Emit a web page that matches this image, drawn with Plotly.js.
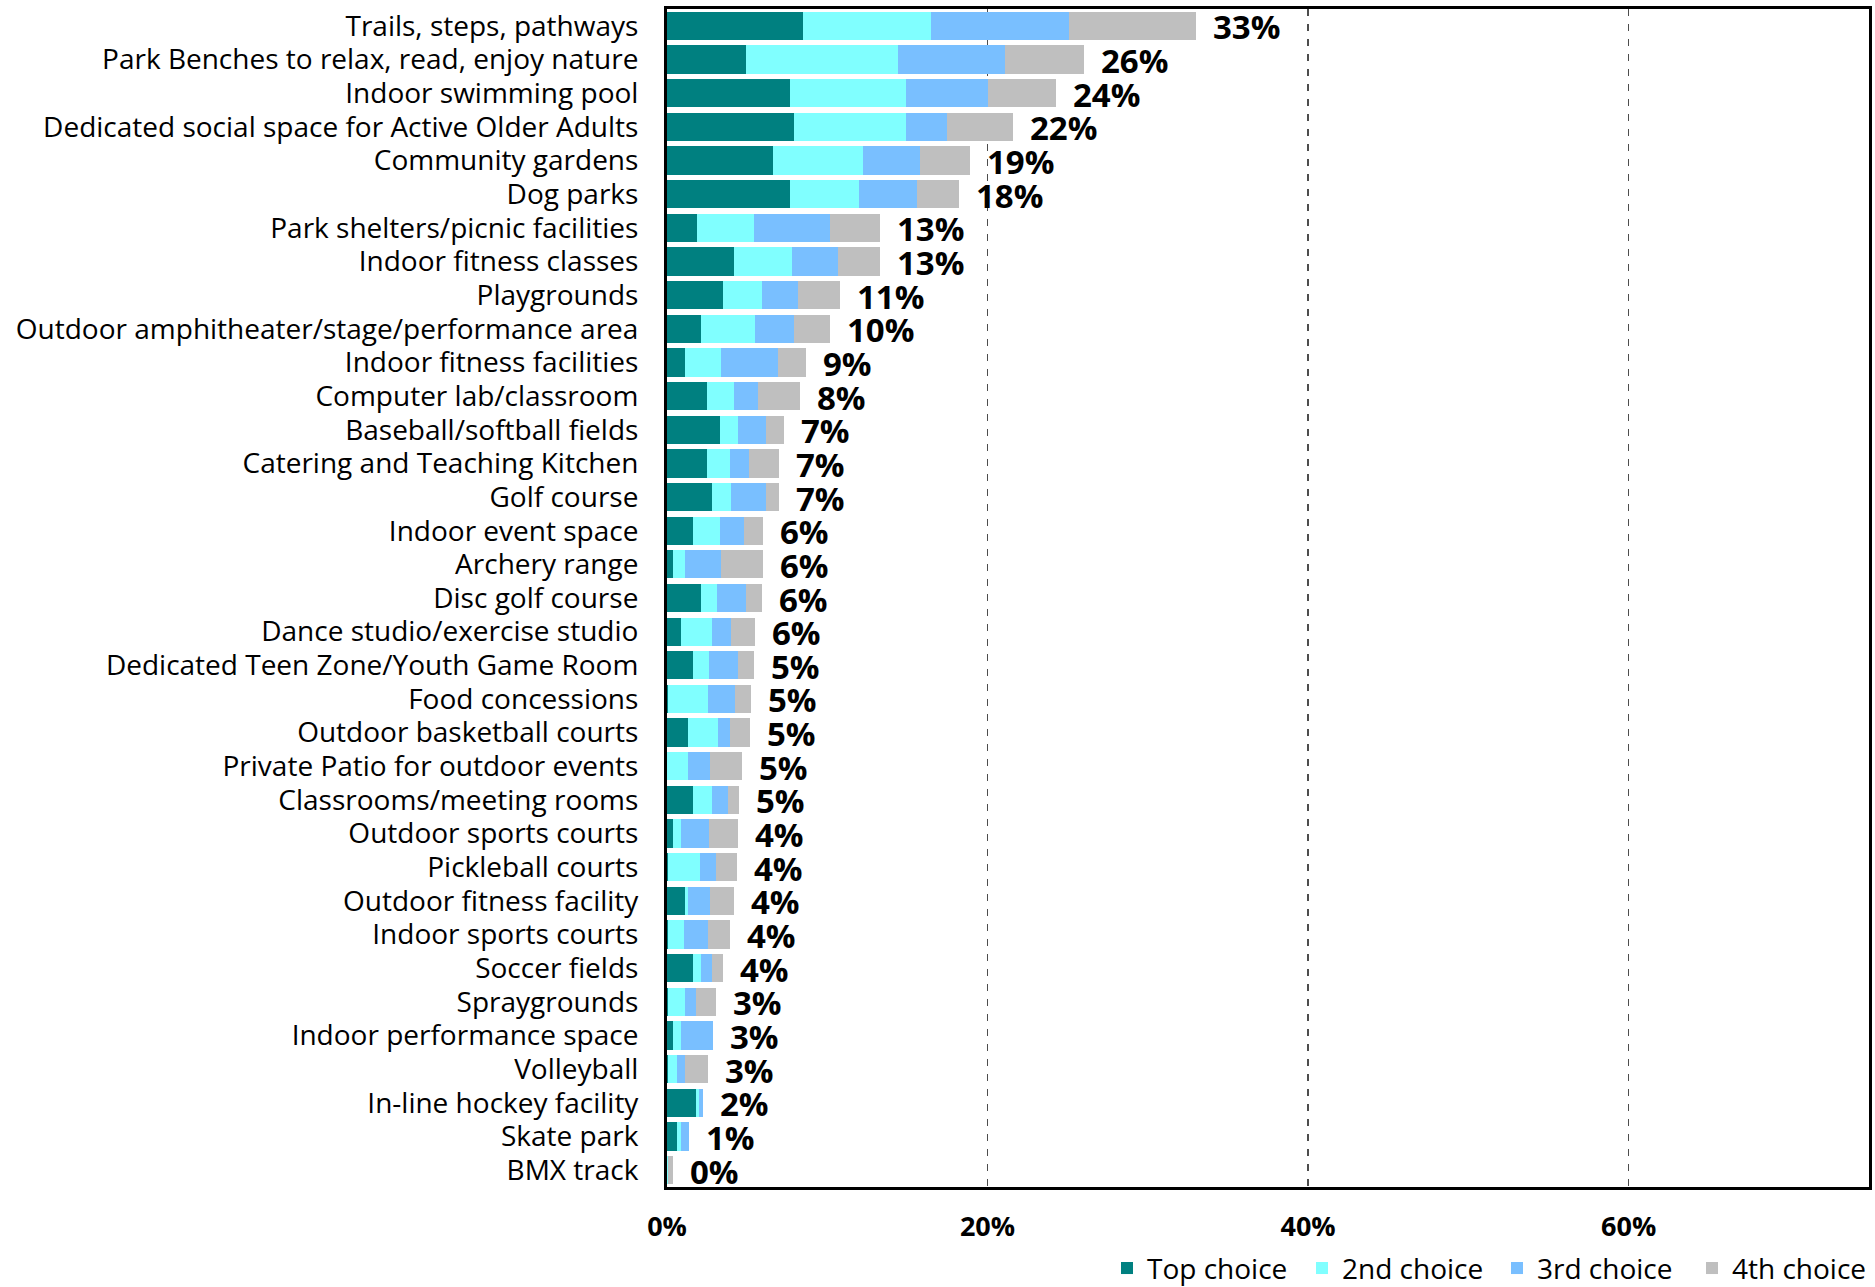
<!DOCTYPE html>
<html>
<head>
<meta charset="utf-8">
<script src="https://cdn.plot.ly/plotly-3.0.1.min.js"></script>
<style>html,body{margin:0;padding:0;background:#fff;}</style>
</head>
<body>
<div id="chart" style="width:1875px;height:1287px;"></div>
<script>
const categories = [
  "Trails, steps, pathways",
  "Park Benches to relax, read, enjoy nature",
  "Indoor swimming pool",
  "Dedicated social space for Active Older Adults",
  "Community gardens",
  "Dog parks",
  "Park shelters/picnic facilities",
  "Indoor fitness classes",
  "Playgrounds",
  "Outdoor amphitheater/stage/performance area",
  "Indoor fitness facilities",
  "Computer lab/classroom",
  "Baseball/softball fields",
  "Catering and Teaching Kitchen",
  "Golf course",
  "Indoor event space",
  "Archery range",
  "Disc golf course",
  "Dance studio/exercise studio",
  "Dedicated Teen Zone/Youth Game Room",
  "Food concessions",
  "Outdoor basketball courts",
  "Private Patio for outdoor events",
  "Classrooms/meeting rooms",
  "Outdoor sports courts",
  "Pickleball courts",
  "Outdoor fitness facility",
  "Indoor sports courts",
  "Soccer fields",
  "Spraygrounds",
  "Indoor performance space",
  "Volleyball",
  "In-line hockey facility",
  "Skate park",
  "BMX track"
];

const topChoice = [8.5, 4.9, 7.7, 7.9, 6.6, 7.7, 1.9, 4.2, 3.5, 2.1, 1.1, 2.5, 3.3, 2.5, 2.8, 1.6, 0.4, 2.1, 0.9, 1.6, 0.05, 1.3, 0.0, 1.6, 0.4, 0.05, 1.1, 0.05, 1.6, 0.05, 0.4, 0.06, 1.8, 0.6, 0.0];
const secondChoice = [8.0, 9.5, 7.2, 7.0, 5.6, 4.3, 3.5, 3.6, 2.4, 3.4, 2.3, 1.7, 1.1, 1.4, 1.2, 1.7, 0.7, 1.0, 1.9, 1.0, 2.5, 1.9, 1.3, 1.2, 0.5, 2.0, 0.2, 1.0, 0.5, 1.05, 0.5, 0.54, 0.2, 0.25, 0.05];
const thirdChoice = [8.6, 6.7, 5.1, 2.6, 3.6, 3.6, 4.8, 2.9, 2.3, 2.4, 3.5, 1.5, 1.8, 1.2, 2.2, 1.5, 2.3, 1.8, 1.2, 1.8, 1.7, 0.7, 1.4, 1.0, 1.7, 1.0, 1.4, 1.5, 0.7, 0.7, 1.95, 0.5, 0.25, 0.5, 0.0];
const fourthChoice = [7.9, 4.9, 4.3, 4.1, 3.1, 2.6, 3.1, 2.6, 2.6, 2.3, 1.8, 2.6, 1.1, 1.9, 0.8, 1.2, 2.6, 1.0, 1.5, 1.0, 1.0, 1.3, 2.0, 0.7, 1.8, 1.3, 1.5, 1.4, 0.7, 1.25, 0.0, 1.45, 0.0, 0.0, 0.3];
const totalLabels = ["33%", "26%", "24%", "22%", "19%", "18%", "13%", "13%", "11%", "10%", "9%", "8%", "7%", "7%", "7%", "6%", "6%", "6%", "6%", "5%", "5%", "5%", "5%", "5%", "4%", "4%", "4%", "4%", "4%", "3%", "3%", "3%", "2%", "1%", "0%"];
const seriesNames = ["Top choice", "2nd choice", "3rd choice", "4th choice"];
const xTicks = [0, 20, 40, 60];

const colors = ["#008080", "#80FFFF", "#79BFFF", "#BFBFBF"];
const seriesValues = [topChoice, secondChoice, thirdChoice, fourthChoice];

const traces = seriesValues.map((vals, k) => ({
  type: "bar",
  orientation: "h",
  name: seriesNames[k],
  y: categories,
  x: vals,
  marker: {color: colors[k], line: {width: 0}},
  hoverinfo: "x+y+name"
}));

const totals = categories.map((c, i) => seriesValues.reduce((s, arr) => s + arr[i], 0));

const annotations = categories.map((c, i) => ({
  x: totals[i],
  y: c,
  xref: "x",
  yref: "y",
  text: totalLabels[i],
  showarrow: false,
  xanchor: "left",
  yanchor: "middle",
  xshift: 15,
  yshift: -1,
  font: {family: "Open Sans", size: 33, color: "#000", weight: "bold"}
}));

const layout = {
  width: 1875,
  height: 1287,
  margin: {l: 667, r: 6, t: 9, b: 100, pad: 0},
  paper_bgcolor: "#fff",
  plot_bgcolor: "#fff",
  barmode: "stack",
  bargap: 0.16,
  font: {family: "Open Sans", color: "#000"},
  xaxis: {
    range: [0, 75],
    tickmode: "array",
    tickvals: xTicks,
    ticktext: xTicks.map(v => v + "%"),
    showgrid: true,
    gridcolor: "#4d4d4d",
    gridwidth: 1.3,
    griddash: "7px,8px",
    zeroline: false,
    showline: true,
    linecolor: "#000",
    linewidth: 3,
    mirror: true,
    ticks: "",
    ticklabelstandoff: 14,
    tickfont: {family: "Open Sans", size: 27, color: "#000", weight: "bold"},
    automargin: false,
    fixedrange: true
  },
  yaxis: {
    type: "category",
    categoryorder: "array",
    categoryarray: categories,
    tickmode: "array",
    tickvals: categories,
    ticktext: categories,
    autorange: false,
    range: [categories.length - 0.5, -0.5],
    showgrid: false,
    zeroline: false,
    showline: true,
    linecolor: "#000",
    linewidth: 3,
    mirror: true,
    ticks: "",
    ticklabelstandoff: 20,
    tickfont: {family: "Open Sans", size: 28, color: "#000"},
    automargin: false,
    fixedrange: true
  },
  showlegend: true,
  legend: {
    orientation: "h",
    xref: "container",
    yref: "container",
    x: 0.5904,
    xanchor: "left",
    y: 0.0145,
    yanchor: "middle",
    traceorder: "normal",
    entrywidth: 150,
    font: {family: "Open Sans", size: 28, color: "#000"},
    bgcolor: "rgba(0,0,0,0)"
  },
  annotations: annotations
};

Plotly.newPlot("chart", traces, layout, {displayModeBar: false, staticPlot: true});
</script>
</body>
</html>
